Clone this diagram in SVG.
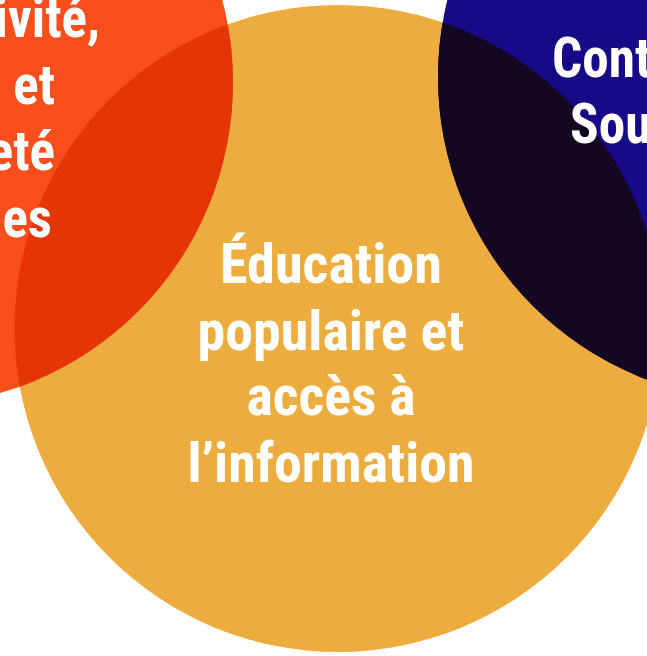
<svg xmlns="http://www.w3.org/2000/svg" width="647" height="656" viewBox="0 0 647 656">
  <style>
    .lbl { font-family: "Roboto Condensed", Roboto, "Liberation Sans", sans-serif; font-weight: 700; font-size: 56px; fill: #ffffff; }
    .mid { text-anchor: middle; }
    .end { text-anchor: end; }
  </style>
  <defs>
    <clipPath id="clipOrange"><circle cx="338" cy="328.5" r="323.5"/></clipPath>
  </defs>
  <rect width="647" height="656" fill="#ffffff"/>
  <g id="node-orange">
    <circle cx="338" cy="328.5" r="323.5" fill="#ECAD3E"/>
  </g>
  <g id="node-red">
    <circle cx="-90.5" cy="82.5" r="323.5" fill="#F84E1C"/>
    <circle cx="-90.5" cy="82.5" r="323.5" fill="#E33506" clip-path="url(#clipOrange)"/>
    <text class="lbl end" transform="translate(100,37) scale(0.95,1)">ivité,</text>
    <text class="lbl end" transform="translate(55,104) scale(0.95,1)">et</text>
    <text class="lbl end" transform="translate(55,170) scale(0.95,1)">eté</text>
    <text class="lbl end" transform="translate(52,237) scale(0.95,1)">es</text>
  </g>
  <g id="node-blue">
    <circle cx="761.5" cy="77" r="323.5" fill="#160A86"/>
    <circle cx="761.5" cy="77" r="323.5" fill="#140722" clip-path="url(#clipOrange)"/>
    <text class="lbl" transform="translate(552,77) scale(0.95,1)">Cont</text>
    <text class="lbl" transform="translate(570,143) scale(0.95,1)">Sou</text>
  </g>
  <g id="node-orange-label">
    <text class="lbl mid" x="331" y="283" textLength="222" lengthAdjust="spacingAndGlyphs">Éducation</text>
    <text class="lbl mid" x="331" y="350" textLength="267" lengthAdjust="spacingAndGlyphs">populaire et</text>
    <text class="lbl mid" x="331" y="415" textLength="169" lengthAdjust="spacingAndGlyphs">accès à</text>
    <text class="lbl mid" x="331" y="482" textLength="287" lengthAdjust="spacingAndGlyphs">l’information</text>
  </g>
</svg>
